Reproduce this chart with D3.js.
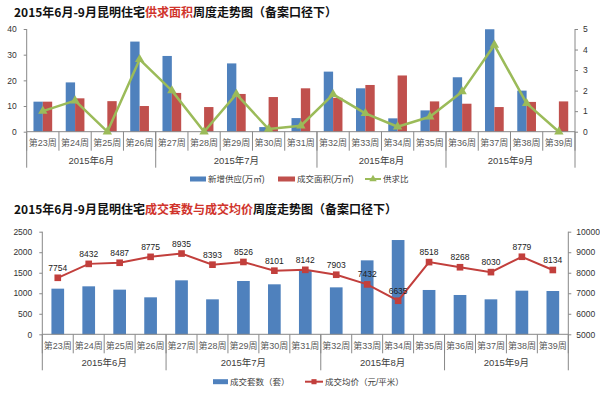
<!DOCTYPE html>
<html>
<head>
<meta charset="utf-8">
<script src="https://cdn.jsdelivr.net/npm/d3@7/dist/d3.min.js"></script>
<style>
  html, body { margin: 0; padding: 0; background: #fff; }
  svg { display: block; font-family: "Liberation Sans", "Noto Sans CJK SC", sans-serif; }
  .tick text { fill: #333; font-size: 8.5px; }
  .wk { fill: #595959; font-size: 9px; }
  .mo { fill: #404040; font-size: 9.5px; }
  .lg { fill: #404040; font-size: 8.5px; }
  .title { font-family: "Noto Sans CJK SC", sans-serif; font-size: 12px; font-weight: 700; fill: #111; }
</style>
</head>
<body>
<svg id="chart" width="600" height="395"></svg>
<script>
const WIDTH = 600;
const HEIGHT = 395;
const COLOR_BLUE = '#4F81BD';
const COLOR_RED = '#C0504D';
const COLOR_GREEN = '#9BBB59';
const COLOR_PRICE = '#C23F3C';
const COLOR_AXIS = '#888888';
const COLOR_TITLE_RED = '#D0342C';

const weeks = ['第23周', '第24周', '第25周', '第26周', '第27周', '第28周', '第29周', '第30周', '第31周',
  '第32周', '第33周', '第34周', '第35周', '第36周', '第37周', '第38周', '第39周'];
const monthLabels = ['2015年6月', '2015年7月', '2015年8月', '2015年9月'];
const monthWeekCounts = [4, 5, 4, 4];

// 供求面积（万㎡）
const supplyArea = [11.7, 19.2, 0, 35.1, 29.5, 0, 26.6, 1.8, 5.3, 23.4, 16.9, 5.2, 8.3, 21.2, 39.9, 16.0, 0];
const dealArea = [11.7, 13.0, 11.9, 10.0, 15.1, 9.6, 14.7, 13.5, 16.9, 13.2, 18.2, 21.9, 11.8, 10.9, 9.6, 11.6, 11.8];
const supplyRatio = [1.0, 1.51, 0, 3.52, 2.0, 0, 1.83, 0.13, 0.29, 1.82, 0.89, 0.24, 0.73, 1.95, 4.22, 1.38, 0];

// 成交套数 / 成交均价
const dealUnits = [1112, 1169, 1088, 901, 1315, 852, 1299, 1218, 1567, 1144, 1802, 2297, 1080, 958, 852, 1063, 1055];
const avgPrice = [7754, 8432, 8487, 8775, 8935, 8393, 8526, 8101, 8142, 7903, 7432, 6635, 8518, 8268, 8030, 8779, 8134];

const areaTicks = [0, 10, 20, 30, 40];
const ratioTicks = [0, 1, 2, 3, 4, 5];
const unitTicks = [0, 500, 1000, 1500, 2000, 2500];
const priceTicks = [5000, 6000, 7000, 8000, 9000, 10000];

const svg = d3.select('#chart');
const fmt = d3.format('d');

function title(y, before, red, after) {
  const t = svg.append('text').attr('class', 'title').attr('x', 14).attr('y', y);
  t.append('tspan').text(before);
  t.append('tspan').attr('fill', COLOR_TITLE_RED).text(red);
  t.append('tspan').text(after);
}

// category axis with week row and month row, Excel multi-level style
function categoryAxis(x, y0, top) {
  const g = svg.append('g');
  const bw = x.step();
  const left = x.range()[0];
  const right = x.range()[1];
  g.append('line').attr('x1', left).attr('x2', right).attr('y1', y0).attr('y2', y0)
    .attr('stroke', COLOR_AXIS);
  // week separators
  const bounds = d3.range(weeks.length + 1).map(i => left + i * bw);
  g.selectAll('line.wsep').data(bounds).join('line')
    .attr('x1', d => d).attr('x2', d => d)
    .attr('y1', y0).attr('y2', y0 + 19)
    .attr('stroke', COLOR_AXIS);
  g.selectAll('text.wk').data(weeks).join('text')
    .attr('class', 'wk')
    .attr('x', d => x(d) + bw / 2)
    .attr('y', y0 + 14.5)
    .attr('text-anchor', 'middle')
    .text(d => d);
  // month separators and labels
  const starts = [0];
  monthWeekCounts.forEach((c, i) => starts.push(starts[i] + c));
  g.selectAll('line.msep').data(starts).join('line')
    .attr('x1', d => left + d * bw).attr('x2', d => left + d * bw)
    .attr('y1', y0).attr('y2', y0 + 36)
    .attr('stroke', COLOR_AXIS);
  g.selectAll('text.mo').data(monthLabels).join('text')
    .attr('class', 'mo')
    .attr('x', (d, i) => left + (starts[i] + monthWeekCounts[i] / 2) * bw)
    .attr('y', y0 + 32)
    .attr('text-anchor', 'middle')
    .text(d => d);
  // vertical axis lines reach to the top of the plot
  g.append('line').attr('x1', left).attr('x2', left).attr('y1', top).attr('y2', y0)
    .attr('stroke', COLOR_AXIS);
  g.append('line').attr('x1', right).attr('x2', right).attr('y1', top).attr('y2', y0)
    .attr('stroke', COLOR_AXIS);
}

function valueAxis(axis, xPos) {
  const g = svg.append('g').attr('transform', `translate(${xPos},0)`).call(axis);
  g.select('.domain').remove();
  g.selectAll('.tick line').attr('stroke', COLOR_AXIS);
  return g;
}

// ---------- Chart 1: 供求面积 ----------
title(17, '2015年6月-9月昆明住宅', '供求面积', '周度走势图（备案口径下）');

const x1 = d3.scaleBand().domain(weeks).range([26.7, 575]);
const yArea = d3.scaleLinear().domain([0, 40]).range([131.7, 29]);
const yRatio = d3.scaleLinear().domain([0, 5]).range([131.7, 29]);

valueAxis(d3.axisLeft(yArea).tickValues(areaTicks).tickFormat(fmt).tickSize(3).tickPadding(7), 26.7);
valueAxis(d3.axisRight(yRatio).tickValues(ratioTicks).tickFormat(fmt).tickSize(3).tickPadding(5), 575);

const barW1 = x1.step() * 0.29;
svg.append('g').selectAll('rect').data(weeks).join('rect')
  .attr('x', d => x1(d) + x1.step() / 2 - barW1)
  .attr('y', (d, i) => yArea(supplyArea[i]))
  .attr('width', barW1)
  .attr('height', (d, i) => yArea(0) - yArea(supplyArea[i]))
  .attr('fill', COLOR_BLUE);
svg.append('g').selectAll('rect').data(weeks).join('rect')
  .attr('x', d => x1(d) + x1.step() / 2)
  .attr('y', (d, i) => yArea(dealArea[i]))
  .attr('width', barW1)
  .attr('height', (d, i) => yArea(0) - yArea(dealArea[i]))
  .attr('fill', COLOR_RED);

categoryAxis(x1, 131.7, 29);

const ratioLine = d3.line()
  .x((d, i) => x1(weeks[i]) + x1.step() / 2)
  .y(d => yRatio(d));
svg.append('path').datum(supplyRatio)
  .attr('d', ratioLine)
  .attr('fill', 'none')
  .attr('stroke', COLOR_GREEN)
  .attr('stroke-width', 2.5)
  .attr('stroke-linejoin', 'round');
const tri = d3.symbol().type(d3.symbolTriangle).size(38);
svg.append('g').selectAll('path').data(supplyRatio).join('path')
  .attr('d', tri)
  .attr('transform', (d, i) => `translate(${x1(weeks[i]) + x1.step() / 2},${yRatio(d)})`)
  .attr('fill', COLOR_GREEN);

// legend 1
const lg1 = svg.append('g').attr('transform', 'translate(0,179)');
lg1.append('rect').attr('x', 190).attr('y', -2.5).attr('width', 16).attr('height', 5).attr('fill', COLOR_BLUE);
lg1.append('text').attr('class', 'lg').attr('x', 208).attr('y', 3).text('新增供应(万㎡)');
lg1.append('rect').attr('x', 278).attr('y', -2.5).attr('width', 17).attr('height', 5).attr('fill', COLOR_RED);
lg1.append('text').attr('class', 'lg').attr('x', 297).attr('y', 3).text('成交面积(万㎡)');
lg1.append('line').attr('x1', 365).attr('x2', 381).attr('y1', 0).attr('y2', 0)
  .attr('stroke', COLOR_GREEN).attr('stroke-width', 2);
lg1.append('path').attr('d', d3.symbol().type(d3.symbolTriangle).size(24))
  .attr('transform', 'translate(373,0)').attr('fill', COLOR_GREEN);
lg1.append('text').attr('class', 'lg').attr('x', 383).attr('y', 3).text('供求比');

// ---------- Chart 2: 成交套数与成交均价 ----------
title(214, '2015年6月-9月昆明住宅', '成交套数与成交均价', '周度走势图（备案口径下）');

const x2 = d3.scaleBand().domain(weeks).range([42.3, 568.3]);
const yUnits = d3.scaleLinear().domain([0, 2500]).range([334.3, 231.7]);
const yPrice = d3.scaleLinear().domain([5000, 10000]).range([334.3, 231.7]);

valueAxis(d3.axisLeft(yUnits).tickValues(unitTicks).tickFormat(fmt).tickSize(3).tickPadding(7), 42.3);
valueAxis(d3.axisRight(yPrice).tickValues(priceTicks).tickFormat(fmt).tickSize(3).tickPadding(5), 568.3);

const barW2 = x2.step() * 0.41;
svg.append('g').selectAll('rect').data(weeks).join('rect')
  .attr('x', d => x2(d) + (x2.step() - barW2) / 2)
  .attr('y', (d, i) => yUnits(dealUnits[i]))
  .attr('width', barW2)
  .attr('height', (d, i) => yUnits(0) - yUnits(dealUnits[i]))
  .attr('fill', COLOR_BLUE);

categoryAxis(x2, 334.3, 231.7);

const priceLine = d3.line()
  .x((d, i) => x2(weeks[i]) + x2.step() / 2)
  .y(d => yPrice(d));
svg.append('path').datum(avgPrice)
  .attr('d', priceLine)
  .attr('fill', 'none')
  .attr('stroke', COLOR_PRICE)
  .attr('stroke-width', 2);
const sq = d3.symbol().type(d3.symbolSquare).size(44);
svg.append('g').selectAll('path').data(avgPrice).join('path')
  .attr('d', sq)
  .attr('transform', (d, i) => `translate(${x2(weeks[i]) + x2.step() / 2},${yPrice(d)})`)
  .attr('fill', COLOR_PRICE);
svg.append('g').selectAll('text').data(avgPrice).join('text')
  .attr('x', (d, i) => x2(weeks[i]) + x2.step() / 2)
  .attr('y', d => yPrice(d) - 7)
  .attr('text-anchor', 'middle')
  .attr('font-size', 8.5)
  .attr('fill', '#222')
  .text(d => d);

// legend 2
const lg2 = svg.append('g').attr('transform', 'translate(0,381.7)');
lg2.append('rect').attr('x', 213).attr('y', -2.5).attr('width', 15).attr('height', 5).attr('fill', COLOR_BLUE);
lg2.append('text').attr('class', 'lg').attr('x', 230).attr('y', 3).text('成交套数（套）');
lg2.append('line').attr('x1', 305).attr('x2', 323).attr('y1', 0).attr('y2', 0)
  .attr('stroke', COLOR_PRICE).attr('stroke-width', 2);
lg2.append('path').attr('d', d3.symbol().type(d3.symbolSquare).size(26))
  .attr('transform', 'translate(314,0)').attr('fill', COLOR_PRICE);
lg2.append('text').attr('class', 'lg').attr('x', 325).attr('y', 3).text('成交均价（元/平米）');
</script>
</body>
</html>
